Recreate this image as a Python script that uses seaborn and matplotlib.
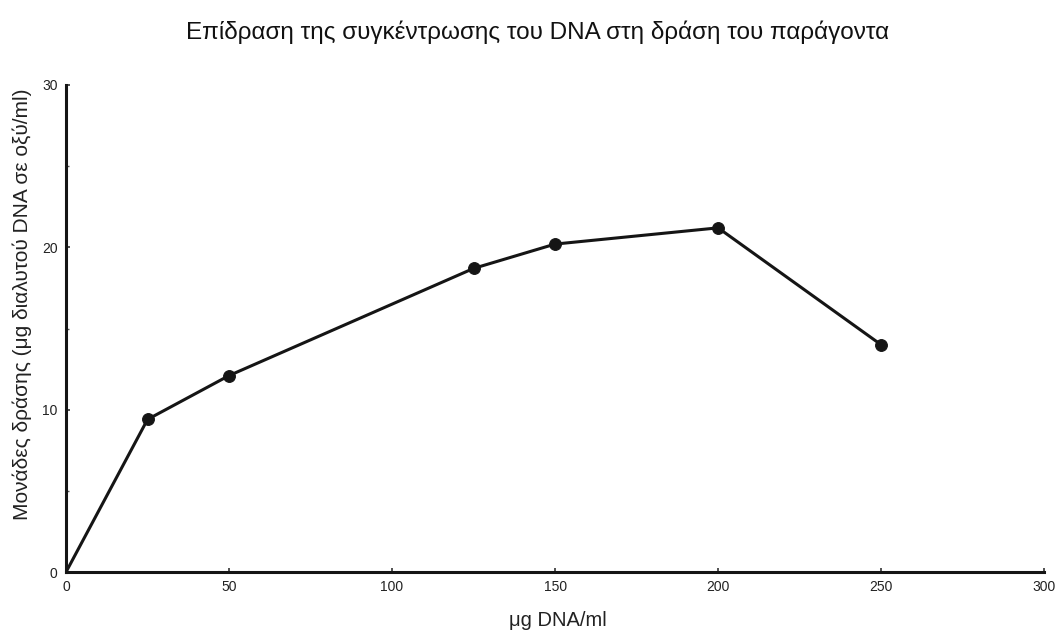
import matplotlib
matplotlib.use("Agg")
import matplotlib.pyplot as plt
import seaborn as sns
import pandas as pd
from matplotlib.ticker import MultipleLocator

# DNA concentration (µg/ml) and activity units
dna_conc = [0, 25, 50, 125, 150, 200, 250]
activity = [0, 9.4, 12.1, 18.7, 20.2, 21.2, 14.0]
x_ticks = [0, 50, 100, 150, 200, 250, 300]
y_ticks = [0, 10, 20, 30]

title = "Επίδραση της συγκέντρωσης του DNA στη δράση του παράγοντα"
x_label = "μg DNA/ml"
y_label = "Μονάδες δράσης (μg διαλυτού DNA σε οξύ/ml)"

sns.set_theme(style="white")
plt.rcParams["font.family"] = ["Liberation Sans", "DejaVu Sans"]

df = pd.DataFrame({"conc": dna_conc, "act": activity})

fig = plt.figure(figsize=(10.6, 6.37), dpi=100)
ax = fig.add_axes([0.0623, 0.102, 0.9227, 0.7646])

# markers on the measured points only, not on the origin
sns.lineplot(data=df, x="conc", y="act", ax=ax, color="#151515",
             linewidth=2.2, marker="o", markersize=8.5,
             markevery=list(range(1, len(dna_conc))),
             markerfacecolor="#151515", markeredgecolor="#151515")

ax.set_xlim(0, 300)
ax.set_ylim(0, 30)
ax.set_xticks(x_ticks)
ax.set_yticks(y_ticks)
ax.yaxis.set_minor_locator(MultipleLocator(5))

for side in ("top", "right"):
    ax.spines[side].set_visible(False)
for side in ("left", "bottom"):
    ax.spines[side].set_linewidth(2.2)
    ax.spines[side].set_color("#151515")

ax.tick_params(axis="both", which="major", direction="in", length=3,
               width=1.2, color="#333333", labelsize=10, labelcolor="#222222",
               bottom=True, left=True, pad=6)
ax.tick_params(axis="y", which="minor", direction="in", length=2,
               width=1, color="#555555", left=True)

ax.set_xlabel(x_label, fontsize=14.5, color="#222222")
ax.set_ylabel(y_label, fontsize=15, color="#222222")
ax.xaxis.set_label_coords(0.503, -0.08)
ax.yaxis.set_label_coords(-0.035, 0.55)
fig.text(0.507, 0.949, title, ha="center", va="center", fontsize=17.5,
         color="#111111")

fig.savefig("out.png", dpi=100, facecolor="white")
